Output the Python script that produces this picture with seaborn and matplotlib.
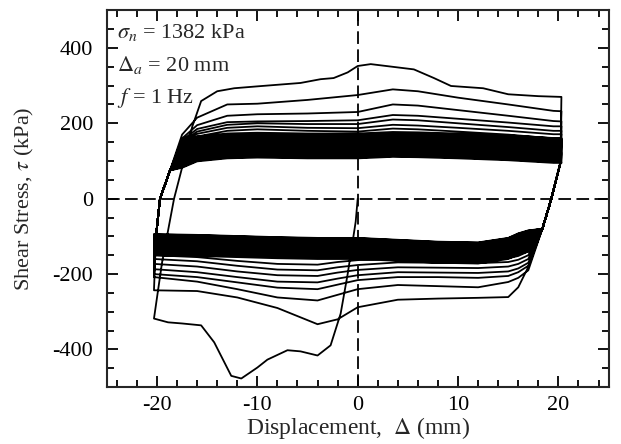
import matplotlib
matplotlib.use("Agg")
import matplotlib.pyplot as plt
import seaborn as sns
import pandas as pd
from matplotlib.ticker import MultipleLocator

# ---------------- data ----------------
# initial loading from the origin towards -20 mm
init_x = [0, -0.2, -1.0, -1.7, -2.7, -4.0, -5.7, -7.0, -9.0, -10.0, -11.6, -12.6,
          -14.3, -15.6, -17.5, -18.9, -20.3]
init_y = [0, -61, -200, -305, -389, -416, -405, -402, -427, -448, -477, -470,
          -381, -336, -331, -328, -318]

# first reloading branch (-20 -> +20 mm)
up1_x = [-19.5, -18.3, -17.6, -16.5, -15.6, -14.0, -12.3, -10.0, -5.7, -3.7, -2.4,
         -1.0, 0.0, 1.3, 5.6, 7.6, 9.3, 12.5, 15.0, 18.0, 20.3]
up1_y = [-170, 0, 72, 190, 259, 285, 293, 298, 307, 317, 320,
         335, 352, 357, 343, 320, 299, 293, 277, 272, 270]

# reversal segments shared by later branches
up_rev_x = [-20.1, -19.7, -18.7]
up_rev_y = [-100, 0, 75]
dn_rev_x = [20.2, 19.3, 18.4]
dn_rev_y = [95, 0, -80]

# positive-going branches, stress at these displacements
up_x = [-17.5, -16, -13, -10, -5, 0, 3.5, 6, 10, 15, 19.5, 20.3]
up2 = [170, 215, 250, 252, 262, 275, 290, 285, 268, 250, 233, 232]
up3 = [160, 195, 220, 224, 226, 230, 250, 247, 235, 220, 206, 205]
up4 = [155, 185, 203, 205, 206, 208, 222, 220, 212, 202, 192, 192]
up5 = [150, 178, 196, 200, 198, 198, 210, 208, 200, 190, 180, 180]
up6 = [145, 172, 188, 192, 188, 187, 196, 194, 188, 180, 171, 171]
up7 = [140, 165, 180, 184, 180, 178, 186, 184, 178, 170, 160, 160]

# negative-going branches, stress at these displacements
dn_x = [17, 16, 15, 12, 8, 4, 0, -2, -4, -8, -12, -16, -20.3]
dn1 = [-181, -235, -261, -263, -265, -268, -288, -320, -333, -290, -262, -245, -243]
dn2 = [-190, -210, -221, -235, -232, -229, -240, -255, -270, -262, -240, -220, -208]
dn3 = [-178, -195, -205, -210, -208, -208, -216, -228, -240, -236, -222, -208, -200]
dn4 = [-170, -185, -193, -197, -196, -195, -203, -212, -222, -220, -208, -195, -187]
dn5 = [-160, -173, -180, -184, -183, -182, -189, -196, -205, -203, -193, -180, -173]
dn6 = [-150, -162, -168, -171, -170, -169, -176, -182, -190, -188, -178, -166, -160]
dn7 = [-140, -152, -158, -160, -159, -158, -163, -168, -175, -173, -165, -155, -150]

# later (stabilised) cycles: plateau stress at 0 mm and branch shape
band_up_levels = [173, 170, 167, 164, 161, 158, 155, 152, 149, 146, 143, 140, 137, 135,
                  133, 131, 129, 127, 125, 123, 121, 119, 117, 115, 113, 111, 109, 107]
band_dn_levels = [-160, -157, -154, -151, -148, -145, -142, -139, -136, -133, -131, -129,
                  -127, -125, -123, -121, -119, -117, -115, -113, -111, -110, -109, -108,
                  -107, -106, -105, -104]
band_up_shape = [-25, -8, 0, 2, 0, 0, 4, 3, 0, -5, -12, -12]
band_dn_shape = [20, 12, 0, -12, -10, -5, 0, 0, 0, 2, 5, 8, 10]

# ---------------- build the displacement path ----------------
px, py, step = [], [], []


def add(xs, ys):
    for a, b in zip(xs, ys):
        px.append(a)
        py.append(b)
        step.append(len(step))


add(init_x, init_y)
add(up1_x, up1_y)
add(dn_rev_x + dn_x, dn_rev_y + dn1)
for u, d in zip([up2, up3, up4, up5, up6, up7], [dn2, dn3, dn4, dn5, dn6, dn7]):
    add(up_rev_x + up_x, up_rev_y + u)
    add(dn_rev_x + dn_x, dn_rev_y + d)
for lu, ld in zip(band_up_levels, band_dn_levels):
    add(up_rev_x + up_x, up_rev_y + [lu + s for s in band_up_shape])
    add(dn_rev_x + dn_x, dn_rev_y + [ld + s for s in band_dn_shape])

df = pd.DataFrame({"disp": px, "tau": py, "step": step})

# ---------------- plot ----------------
sns.set_theme(style="ticks")
plt.rcParams["font.family"] = ["Liberation Serif", "DejaVu Serif"]
plt.rcParams["mathtext.fontset"] = "stix"
plt.rcParams["axes.linewidth"] = 1.5

fig = plt.figure(figsize=(6.21, 4.44), dpi=100)
ax = fig.add_axes([0.172, 0.128, 0.808, 0.849])

ax.axhline(0, color="black", lw=1.3, ls=(0, (7, 3)), zorder=1)
ax.axvline(0, color="black", lw=1.3, ls=(0, (7, 3)), zorder=1)

sns.lineplot(data=df, x="disp", y="tau", sort=False, estimator=None,
             color="black", lw=1.3, ax=ax, zorder=2)

ax.set_xlim(-25, 25)
ax.set_ylim(-500, 500)
ax.xaxis.set_major_locator(MultipleLocator(10))
ax.xaxis.set_minor_locator(MultipleLocator(2))
ax.yaxis.set_major_locator(MultipleLocator(200))
ax.yaxis.set_minor_locator(MultipleLocator(50))
ax.tick_params(which="both", direction="in", top=True, right=True, width=1.3,
               labelsize=16, colors="black")
ax.tick_params(which="major", length=8, pad=6)
ax.tick_params(which="minor", length=5)
ax.set_xticks([-20, -10, 0, 10, 20])
ax.set_xticklabels(["-20", "-10", "0", "10", "20"])
ax.set_yticks([-400, -200, 0, 200, 400])
ax.set_yticklabels(["-400", "-200", "0", "200", "400"])
ax.tick_params(axis="y", which="major", pad=10)

ax.set_xlabel(r"Displacement,  $\mathrm{\Delta}$ (mm)", fontsize=17, labelpad=0)
ax.set_ylabel(r"Shear Stress, $\tau$ (kPa)", fontsize=16, labelpad=12)

ax.text(0.02, 0.94, r"$\sigma_n$ = 1382 kPa", transform=ax.transAxes,
        fontsize=16, va="center", ha="left")
ax.text(0.02, 0.855, r"$\mathrm{\Delta}_a$ = 20 mm", transform=ax.transAxes,
        fontsize=16, va="center", ha="left")
ax.text(0.02, 0.768, r"$f$ = 1 Hz", transform=ax.transAxes,
        fontsize=16, va="center", ha="left")

fig.savefig("out.png", dpi=100)
